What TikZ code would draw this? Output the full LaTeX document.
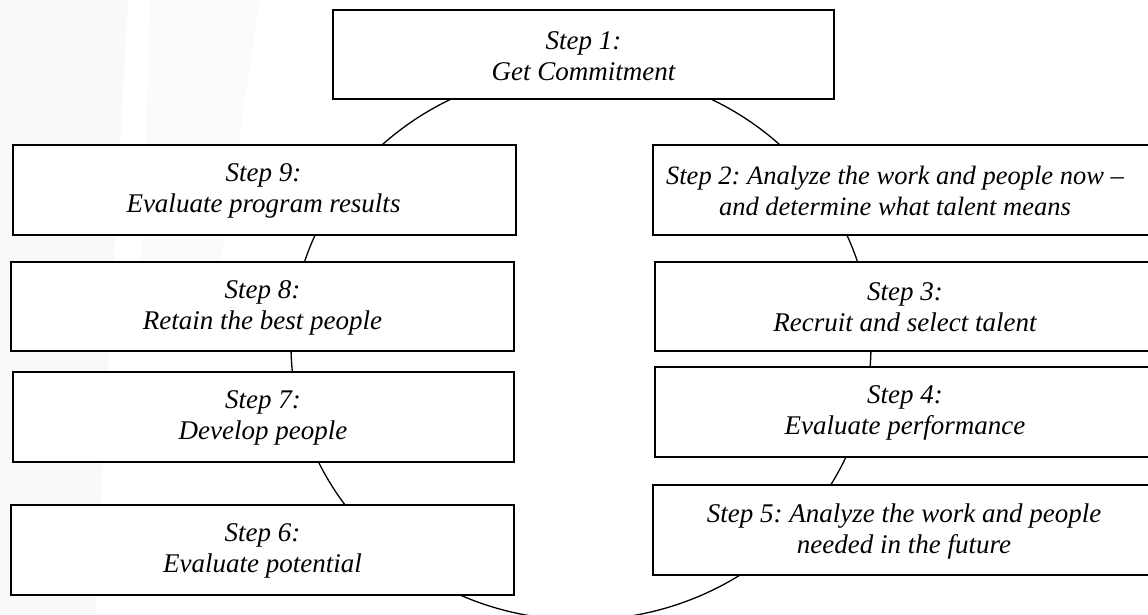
\documentclass[tikz,border=0pt]{standalone}
\usepackage{fontspec}
\setmainfont{Liberation Serif}
\frenchspacing
\begin{document}
\begin{tikzpicture}[x=1pt,y=-1pt,
  box/.style={draw=black,line width=1.4pt,fill=white,rectangle,inner sep=0pt},
  txt/.style={align=center,inner sep=0pt,font=\fontsize{27}{31}\selectfont\itshape},
  widetxt/.style={align=center,inner sep=0pt,font=\fontsize{26.5}{31}\selectfont\itshape},
  ring/.style={draw=black,line width=1.3pt}]
\useasboundingbox (0,0) rectangle (1148,614);
\clip (0,0) rectangle (1148,614);
% faint watermark
\fill[gray!5] (0,0) -- (128,0) -- (95,614) -- (0,614) -- cycle;
\fill[gray!3] (150,0) -- (260,0) -- (215,300) -- (140,300) -- cycle;
% cycle ellipse
\draw[ring] (581,345) ellipse [x radius=290, y radius=275];
% boxes
\node[box,minimum width=501pt,minimum height=89pt] (b1) at (583.5,54.5) {};
\node[box,minimum width=503pt,minimum height=90pt] (b9) at (264.5,190) {};
\node[box,minimum width=503pt,minimum height=89pt] (b8) at (262.5,306.5) {};
\node[box,minimum width=501pt,minimum height=90pt] (b7) at (263.5,417) {};
\node[box,minimum width=503pt,minimum height=90pt] (b6) at (262.5,550) {};
\node[box,minimum width=520pt,minimum height=90pt] (b2) at (913,190) {};
\node[box,minimum width=520pt,minimum height=89pt] (b3) at (915,306.5) {};
\node[box,minimum width=520pt,minimum height=90pt] (b4) at (915,412) {};
\node[box,minimum width=520pt,minimum height=90pt] (b5) at (913,530) {};
% texts
\node[txt] (t1) at (583.5,56) {Step 1:\\Get Commitment};
\node[txt] (t9) at (263.5,191) {Step 9:\\Evaluate program results};
\node[txt] (t8) at (262.5,307.5) {Step 8:\\Retain the best people};
\node[txt] (t7) at (263,418) {Step 7:\\Develop people};
\node[txt] (t6) at (262.5,551) {Step 6:\\Evaluate potential};
\node[widetxt] (t2) at (895,191) {Step 2: Analyze the work and people now --\\and determine what talent means};
\node[txt] (t3) at (905,307.5) {Step 3:\\Recruit and select talent};
\node[txt] (t4) at (905,413) {Step 4:\\Evaluate performance};
\node[txt] (t5) at (904,531) {Step 5: Analyze the work and people\\needed in the future};
\end{tikzpicture}
\end{document}
